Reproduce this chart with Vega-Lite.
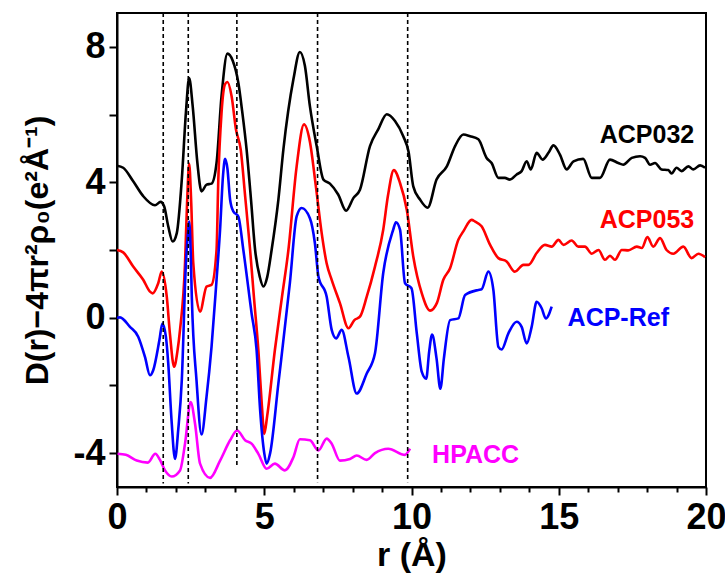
{
  "$schema": "https://vega.github.io/schema/vega-lite/v6.json",
  "width": 589,
  "height": 474,
  "autosize": {"type": "none"},
  "padding": {"left": 117, "top": 13, "right": 19, "bottom": 94},
  "background": "white",
  "config": {
    "view": {"stroke": "black", "strokeWidth": 2},
    "font": "Liberation Sans",
    "axis": {
      "grid": false,
      "domainColor": "black",
      "domainWidth": 2,
      "tickColor": "black",
      "tickWidth": 2,
      "labelFont": "Liberation Sans",
      "labelFontWeight": "bold",
      "labelFontSize": 36,
      "labelColor": "black",
      "titleFont": "Liberation Sans",
      "titleFontWeight": "bold",
      "titleFontSize": 34,
      "titleColor": "black"
    }
  },
  "resolve": {"axis": {"x": "independent", "y": "independent"}},
  "datasets": {
    "curves": [
      {"s": "ACP032", "r": 0, "v": 4.49}, {"s": "ACP032", "r": 0.21, "v": 4.43}, {"s": "ACP032", "r": 0.55, "v": 4.03}, {"s": "ACP032", "r": 0.89, "v": 3.59}, {"s": "ACP032", "r": 1.29, "v": 3.32}, {"s": "ACP032", "r": 1.48, "v": 3.42}, {"s": "ACP032", "r": 1.6, "v": 3.29}, {"s": "ACP032", "r": 1.74, "v": 2.7}, {"s": "ACP032", "r": 1.89, "v": 2.25}, {"s": "ACP032", "r": 2.03, "v": 2.5}, {"s": "ACP032", "r": 2.2, "v": 4.08}, {"s": "ACP032", "r": 2.34, "v": 6.06}, {"s": "ACP032", "r": 2.45, "v": 7.08}, {"s": "ACP032", "r": 2.57, "v": 6.25}, {"s": "ACP032", "r": 2.73, "v": 4.57}, {"s": "ACP032", "r": 2.87, "v": 3.73}, {"s": "ACP032", "r": 3.04, "v": 3.93}, {"s": "ACP032", "r": 3.21, "v": 3.96}, {"s": "ACP032", "r": 3.38, "v": 4.57}, {"s": "ACP032", "r": 3.55, "v": 6.55}, {"s": "ACP032", "r": 3.75, "v": 7.8}, {"s": "ACP032", "r": 3.93, "v": 7.59}, {"s": "ACP032", "r": 4.12, "v": 6.94}, {"s": "ACP032", "r": 4.25, "v": 6.1}, {"s": "ACP032", "r": 4.4, "v": 4.97}, {"s": "ACP032", "r": 4.55, "v": 3.49}, {"s": "ACP032", "r": 4.69, "v": 2.0}, {"s": "ACP032", "r": 4.85, "v": 1.2}, {"s": "ACP032", "r": 4.97, "v": 0.92}, {"s": "ACP032", "r": 5.1, "v": 1.2}, {"s": "ACP032", "r": 5.25, "v": 2.0}, {"s": "ACP032", "r": 5.48, "v": 3.49}, {"s": "ACP032", "r": 5.65, "v": 4.97}, {"s": "ACP032", "r": 5.99, "v": 7.04}, {"s": "ACP032", "r": 6.21, "v": 7.85}, {"s": "ACP032", "r": 6.38, "v": 7.44}, {"s": "ACP032", "r": 6.55, "v": 6.25}, {"s": "ACP032", "r": 6.78, "v": 5.07}, {"s": "ACP032", "r": 7.01, "v": 4.08}, {"s": "ACP032", "r": 7.23, "v": 3.96}, {"s": "ACP032", "r": 7.51, "v": 3.64}, {"s": "ACP032", "r": 7.78, "v": 3.16}, {"s": "ACP032", "r": 8.03, "v": 3.54}, {"s": "ACP032", "r": 8.25, "v": 3.78}, {"s": "ACP032", "r": 8.59, "v": 5.07}, {"s": "ACP032", "r": 8.87, "v": 5.56}, {"s": "ACP032", "r": 9.16, "v": 6.01}, {"s": "ACP032", "r": 9.44, "v": 5.81}, {"s": "ACP032", "r": 9.72, "v": 5.36}, {"s": "ACP032", "r": 9.9, "v": 4.9}, {"s": "ACP032", "r": 10.06, "v": 3.88}, {"s": "ACP032", "r": 10.29, "v": 3.49}, {"s": "ACP032", "r": 10.55, "v": 3.25}, {"s": "ACP032", "r": 10.85, "v": 4.08}, {"s": "ACP032", "r": 11.2, "v": 4.47}, {"s": "ACP032", "r": 11.48, "v": 5.07}, {"s": "ACP032", "r": 11.76, "v": 5.41}, {"s": "ACP032", "r": 11.99, "v": 5.36}, {"s": "ACP032", "r": 12.27, "v": 5.27}, {"s": "ACP032", "r": 12.55, "v": 4.72}, {"s": "ACP032", "r": 12.72, "v": 4.57}, {"s": "ACP032", "r": 12.95, "v": 4.13}, {"s": "ACP032", "r": 13.17, "v": 4.13}, {"s": "ACP032", "r": 13.34, "v": 4.08}, {"s": "ACP032", "r": 13.57, "v": 4.23}, {"s": "ACP032", "r": 13.74, "v": 4.33}, {"s": "ACP032", "r": 13.91, "v": 4.62}, {"s": "ACP032", "r": 14.05, "v": 4.38}, {"s": "ACP032", "r": 14.25, "v": 4.87}, {"s": "ACP032", "r": 14.45, "v": 4.67}, {"s": "ACP032", "r": 14.65, "v": 4.87}, {"s": "ACP032", "r": 14.82, "v": 5.09}, {"s": "ACP032", "r": 15.04, "v": 4.82}, {"s": "ACP032", "r": 15.27, "v": 4.38}, {"s": "ACP032", "r": 15.5, "v": 4.62}, {"s": "ACP032", "r": 15.83, "v": 4.69}, {"s": "ACP032", "r": 16.12, "v": 4.13}, {"s": "ACP032", "r": 16.4, "v": 4.13}, {"s": "ACP032", "r": 16.74, "v": 4.67}, {"s": "ACP032", "r": 17.02, "v": 4.57}, {"s": "ACP032", "r": 17.19, "v": 4.52}, {"s": "ACP032", "r": 17.48, "v": 4.72}, {"s": "ACP032", "r": 17.76, "v": 4.77}, {"s": "ACP032", "r": 17.93, "v": 4.72}, {"s": "ACP032", "r": 18.1, "v": 4.52}, {"s": "ACP032", "r": 18.27, "v": 4.57}, {"s": "ACP032", "r": 18.49, "v": 4.38}, {"s": "ACP032", "r": 18.72, "v": 4.36}, {"s": "ACP032", "r": 18.83, "v": 4.26}, {"s": "ACP032", "r": 19.0, "v": 4.43}, {"s": "ACP032", "r": 19.17, "v": 4.33}, {"s": "ACP032", "r": 19.4, "v": 4.47}, {"s": "ACP032", "r": 19.57, "v": 4.38}, {"s": "ACP032", "r": 19.8, "v": 4.5}, {"s": "ACP032", "r": 19.97, "v": 4.43},

      {"s": "ACP053", "r": 0, "v": 2.0}, {"s": "ACP053", "r": 0.21, "v": 1.93}, {"s": "ACP053", "r": 0.55, "v": 1.51}, {"s": "ACP053", "r": 0.89, "v": 1.12}, {"s": "ACP053", "r": 1.12, "v": 0.77}, {"s": "ACP053", "r": 1.21, "v": 0.72}, {"s": "ACP053", "r": 1.4, "v": 1.02}, {"s": "ACP053", "r": 1.52, "v": 1.36}, {"s": "ACP053", "r": 1.69, "v": 0.62}, {"s": "ACP053", "r": 1.8, "v": -0.5}, {"s": "ACP053", "r": 1.94, "v": -1.45}, {"s": "ACP053", "r": 2.05, "v": -1.0}, {"s": "ACP053", "r": 2.14, "v": -0.36}, {"s": "ACP053", "r": 2.31, "v": 1.61}, {"s": "ACP053", "r": 2.38, "v": 3.4}, {"s": "ACP053", "r": 2.45, "v": 4.55}, {"s": "ACP053", "r": 2.52, "v": 3.4}, {"s": "ACP053", "r": 2.59, "v": 1.61}, {"s": "ACP053", "r": 2.82, "v": 0.18}, {"s": "ACP053", "r": 3.04, "v": 0.92}, {"s": "ACP053", "r": 3.21, "v": 0.97}, {"s": "ACP053", "r": 3.38, "v": 2.0}, {"s": "ACP053", "r": 3.44, "v": 4.08}, {"s": "ACP053", "r": 3.55, "v": 6.06}, {"s": "ACP053", "r": 3.67, "v": 6.9}, {"s": "ACP053", "r": 3.75, "v": 6.96}, {"s": "ACP053", "r": 3.89, "v": 6.55}, {"s": "ACP053", "r": 4.04, "v": 5.56}, {"s": "ACP053", "r": 4.2, "v": 4.97}, {"s": "ACP053", "r": 4.35, "v": 3.6}, {"s": "ACP053", "r": 4.52, "v": 2.0}, {"s": "ACP053", "r": 4.65, "v": 0.6}, {"s": "ACP053", "r": 4.8, "v": -0.96}, {"s": "ACP053", "r": 4.92, "v": -2.6}, {"s": "ACP053", "r": 5.0, "v": -3.43}, {"s": "ACP053", "r": 5.1, "v": -2.9}, {"s": "ACP053", "r": 5.36, "v": -0.96}, {"s": "ACP053", "r": 5.6, "v": 0.6}, {"s": "ACP053", "r": 5.82, "v": 2.0}, {"s": "ACP053", "r": 6.1, "v": 4.47}, {"s": "ACP053", "r": 6.35, "v": 5.71}, {"s": "ACP053", "r": 6.55, "v": 5.2}, {"s": "ACP053", "r": 6.75, "v": 3.9}, {"s": "ACP053", "r": 6.95, "v": 2.5}, {"s": "ACP053", "r": 7.12, "v": 1.6}, {"s": "ACP053", "r": 7.29, "v": 1.12}, {"s": "ACP053", "r": 7.57, "v": 0.43}, {"s": "ACP053", "r": 7.86, "v": -0.31}, {"s": "ACP053", "r": 8.06, "v": -0.07}, {"s": "ACP053", "r": 8.25, "v": 0.03}, {"s": "ACP053", "r": 8.48, "v": 0.62}, {"s": "ACP053", "r": 8.76, "v": 1.51}, {"s": "ACP053", "r": 9.04, "v": 2.6}, {"s": "ACP053", "r": 9.2, "v": 3.6}, {"s": "ACP053", "r": 9.4, "v": 4.36}, {"s": "ACP053", "r": 9.61, "v": 3.98}, {"s": "ACP053", "r": 9.84, "v": 3.19}, {"s": "ACP053", "r": 10.06, "v": 1.81}, {"s": "ACP053", "r": 10.35, "v": 0.72}, {"s": "ACP053", "r": 10.63, "v": 0.21}, {"s": "ACP053", "r": 10.86, "v": 0.43}, {"s": "ACP053", "r": 11.08, "v": 1.12}, {"s": "ACP053", "r": 11.31, "v": 1.46}, {"s": "ACP053", "r": 11.59, "v": 2.3}, {"s": "ACP053", "r": 11.76, "v": 2.55}, {"s": "ACP053", "r": 12.04, "v": 2.89}, {"s": "ACP053", "r": 12.16, "v": 2.84}, {"s": "ACP053", "r": 12.38, "v": 2.7}, {"s": "ACP053", "r": 12.67, "v": 2.15}, {"s": "ACP053", "r": 12.95, "v": 1.76}, {"s": "ACP053", "r": 13.23, "v": 1.66}, {"s": "ACP053", "r": 13.51, "v": 1.36}, {"s": "ACP053", "r": 13.8, "v": 1.56}, {"s": "ACP053", "r": 13.97, "v": 1.56}, {"s": "ACP053", "r": 14.25, "v": 1.91}, {"s": "ACP053", "r": 14.53, "v": 2.15}, {"s": "ACP053", "r": 14.76, "v": 2.1}, {"s": "ACP053", "r": 14.99, "v": 2.3}, {"s": "ACP053", "r": 15.16, "v": 2.15}, {"s": "ACP053", "r": 15.44, "v": 2.28}, {"s": "ACP053", "r": 15.66, "v": 2.1}, {"s": "ACP053", "r": 15.89, "v": 2.1}, {"s": "ACP053", "r": 16.12, "v": 1.89}, {"s": "ACP053", "r": 16.35, "v": 2.0}, {"s": "ACP053", "r": 16.57, "v": 1.71}, {"s": "ACP053", "r": 16.74, "v": 1.83}, {"s": "ACP053", "r": 16.91, "v": 1.71}, {"s": "ACP053", "r": 17.14, "v": 2.0}, {"s": "ACP053", "r": 17.36, "v": 1.99}, {"s": "ACP053", "r": 17.65, "v": 2.1}, {"s": "ACP053", "r": 17.82, "v": 2.06}, {"s": "ACP053", "r": 18.01, "v": 2.38}, {"s": "ACP053", "r": 18.21, "v": 2.1}, {"s": "ACP053", "r": 18.44, "v": 2.35}, {"s": "ACP053", "r": 18.66, "v": 2.0}, {"s": "ACP053", "r": 18.89, "v": 1.89}, {"s": "ACP053", "r": 19.23, "v": 2.1}, {"s": "ACP053", "r": 19.51, "v": 1.76}, {"s": "ACP053", "r": 19.74, "v": 1.89}, {"s": "ACP053", "r": 19.97, "v": 1.79},

      {"s": "ACP-Ref", "r": 0, "v": 0.0}, {"s": "ACP-Ref", "r": 0.1, "v": 0.01}, {"s": "ACP-Ref", "r": 0.44, "v": -0.27}, {"s": "ACP-Ref", "r": 0.72, "v": -0.56}, {"s": "ACP-Ref", "r": 0.95, "v": -1.16}, {"s": "ACP-Ref", "r": 1.12, "v": -1.7}, {"s": "ACP-Ref", "r": 1.23, "v": -1.55}, {"s": "ACP-Ref", "r": 1.44, "v": -0.66}, {"s": "ACP-Ref", "r": 1.54, "v": -0.17}, {"s": "ACP-Ref", "r": 1.66, "v": -0.56}, {"s": "ACP-Ref", "r": 1.74, "v": -1.35}, {"s": "ACP-Ref", "r": 1.85, "v": -3.0}, {"s": "ACP-Ref", "r": 1.97, "v": -4.17}, {"s": "ACP-Ref", "r": 2.08, "v": -3.3}, {"s": "ACP-Ref", "r": 2.2, "v": -1.85}, {"s": "ACP-Ref", "r": 2.34, "v": 1.61}, {"s": "ACP-Ref", "r": 2.42, "v": 2.6}, {"s": "ACP-Ref", "r": 2.45, "v": 2.84}, {"s": "ACP-Ref", "r": 2.5, "v": 2.0}, {"s": "ACP-Ref", "r": 2.54, "v": 0.62}, {"s": "ACP-Ref", "r": 2.7, "v": -1.85}, {"s": "ACP-Ref", "r": 2.87, "v": -3.45}, {"s": "ACP-Ref", "r": 3.04, "v": -2.34}, {"s": "ACP-Ref", "r": 3.21, "v": -0.86}, {"s": "ACP-Ref", "r": 3.38, "v": 1.12}, {"s": "ACP-Ref", "r": 3.5, "v": 2.6}, {"s": "ACP-Ref", "r": 3.6, "v": 4.2}, {"s": "ACP-Ref", "r": 3.67, "v": 4.69}, {"s": "ACP-Ref", "r": 3.75, "v": 4.4}, {"s": "ACP-Ref", "r": 3.84, "v": 3.49}, {"s": "ACP-Ref", "r": 3.95, "v": 3.14}, {"s": "ACP-Ref", "r": 4.12, "v": 2.99}, {"s": "ACP-Ref", "r": 4.29, "v": 2.0}, {"s": "ACP-Ref", "r": 4.57, "v": 0.13}, {"s": "ACP-Ref", "r": 4.74, "v": -0.96}, {"s": "ACP-Ref", "r": 4.86, "v": -2.73}, {"s": "ACP-Ref", "r": 5.0, "v": -4.0}, {"s": "ACP-Ref", "r": 5.08, "v": -4.31}, {"s": "ACP-Ref", "r": 5.2, "v": -4.0}, {"s": "ACP-Ref", "r": 5.48, "v": -1.94}, {"s": "ACP-Ref", "r": 5.87, "v": 1.02}, {"s": "ACP-Ref", "r": 6.1, "v": 2.99}, {"s": "ACP-Ref", "r": 6.27, "v": 3.24}, {"s": "ACP-Ref", "r": 6.55, "v": 2.94}, {"s": "ACP-Ref", "r": 6.72, "v": 2.2}, {"s": "ACP-Ref", "r": 6.84, "v": 1.22}, {"s": "ACP-Ref", "r": 7.12, "v": 0.62}, {"s": "ACP-Ref", "r": 7.29, "v": -0.36}, {"s": "ACP-Ref", "r": 7.44, "v": -0.61}, {"s": "ACP-Ref", "r": 7.63, "v": -0.36}, {"s": "ACP-Ref", "r": 7.86, "v": -1.16}, {"s": "ACP-Ref", "r": 8.14, "v": -2.24}, {"s": "ACP-Ref", "r": 8.48, "v": -1.65}, {"s": "ACP-Ref", "r": 8.76, "v": -1.05}, {"s": "ACP-Ref", "r": 9.04, "v": 1.32}, {"s": "ACP-Ref", "r": 9.38, "v": 2.6}, {"s": "ACP-Ref", "r": 9.47, "v": 2.82}, {"s": "ACP-Ref", "r": 9.61, "v": 2.6}, {"s": "ACP-Ref", "r": 9.78, "v": 1.02}, {"s": "ACP-Ref", "r": 10.0, "v": 0.87}, {"s": "ACP-Ref", "r": 10.18, "v": -0.46}, {"s": "ACP-Ref", "r": 10.35, "v": -1.6}, {"s": "ACP-Ref", "r": 10.5, "v": -1.8}, {"s": "ACP-Ref", "r": 10.6, "v": -1.0}, {"s": "ACP-Ref", "r": 10.7, "v": -0.5}, {"s": "ACP-Ref", "r": 10.85, "v": -1.2}, {"s": "ACP-Ref", "r": 10.98, "v": -2.1}, {"s": "ACP-Ref", "r": 11.1, "v": -1.2}, {"s": "ACP-Ref", "r": 11.31, "v": -0.07}, {"s": "ACP-Ref", "r": 11.59, "v": -0.02}, {"s": "ACP-Ref", "r": 11.82, "v": 0.67}, {"s": "ACP-Ref", "r": 12.27, "v": 0.82}, {"s": "ACP-Ref", "r": 12.38, "v": 0.84}, {"s": "ACP-Ref", "r": 12.61, "v": 1.36}, {"s": "ACP-Ref", "r": 12.78, "v": 0.82}, {"s": "ACP-Ref", "r": 12.95, "v": -0.86}, {"s": "ACP-Ref", "r": 13.06, "v": -0.94}, {"s": "ACP-Ref", "r": 13.29, "v": -0.46}, {"s": "ACP-Ref", "r": 13.57, "v": -0.12}, {"s": "ACP-Ref", "r": 13.74, "v": -0.27}, {"s": "ACP-Ref", "r": 13.91, "v": -0.76}, {"s": "ACP-Ref", "r": 14.08, "v": -0.27}, {"s": "ACP-Ref", "r": 14.25, "v": 0.47}, {"s": "ACP-Ref", "r": 14.42, "v": 0.28}, {"s": "ACP-Ref", "r": 14.56, "v": -0.02}, {"s": "ACP-Ref", "r": 14.76, "v": 0.33},

      {"s": "HPACC", "r": 0.02, "v": -4.02}, {"s": "HPACC", "r": 0.3, "v": -4.05}, {"s": "HPACC", "r": 0.67, "v": -4.22}, {"s": "HPACC", "r": 1.05, "v": -4.28}, {"s": "HPACC", "r": 1.3, "v": -4.02}, {"s": "HPACC", "r": 1.46, "v": -4.2}, {"s": "HPACC", "r": 1.63, "v": -4.51}, {"s": "HPACC", "r": 1.86, "v": -4.69}, {"s": "HPACC", "r": 2.14, "v": -4.51}, {"s": "HPACC", "r": 2.31, "v": -3.72}, {"s": "HPACC", "r": 2.5, "v": -2.49}, {"s": "HPACC", "r": 2.65, "v": -3.13}, {"s": "HPACC", "r": 2.82, "v": -4.31}, {"s": "HPACC", "r": 3.16, "v": -4.73}, {"s": "HPACC", "r": 3.5, "v": -4.22}, {"s": "HPACC", "r": 3.84, "v": -3.62}, {"s": "HPACC", "r": 4.08, "v": -3.33}, {"s": "HPACC", "r": 4.35, "v": -3.62}, {"s": "HPACC", "r": 4.57, "v": -3.72}, {"s": "HPACC", "r": 4.8, "v": -4.02}, {"s": "HPACC", "r": 5.08, "v": -4.46}, {"s": "HPACC", "r": 5.36, "v": -4.31}, {"s": "HPACC", "r": 5.7, "v": -4.51}, {"s": "HPACC", "r": 5.99, "v": -4.12}, {"s": "HPACC", "r": 6.21, "v": -3.59}, {"s": "HPACC", "r": 6.55, "v": -3.62}, {"s": "HPACC", "r": 6.84, "v": -3.92}, {"s": "HPACC", "r": 7.12, "v": -3.57}, {"s": "HPACC", "r": 7.29, "v": -3.72}, {"s": "HPACC", "r": 7.57, "v": -4.22}, {"s": "HPACC", "r": 7.91, "v": -4.17}, {"s": "HPACC", "r": 8.14, "v": -4.07}, {"s": "HPACC", "r": 8.48, "v": -4.2}, {"s": "HPACC", "r": 8.76, "v": -4.0}, {"s": "HPACC", "r": 9.21, "v": -3.87}, {"s": "HPACC", "r": 9.78, "v": -4.05}, {"s": "HPACC", "r": 9.95, "v": -3.87}
    ],
    "marks": [
      {"r": 1.57, "top": 9, "bottom": -4.9},
      {"r": 2.42, "top": 9, "bottom": -4.9},
      {"r": 4.07, "top": 9, "bottom": -4.42},
      {"r": 6.81, "top": 9, "bottom": -4.86},
      {"r": 9.87, "top": 9, "bottom": -4.86}
    ],
    "labelsRight": [
      {"s": "ACP032", "r": 19.6, "v": 5.4},
      {"s": "ACP053", "r": 19.6, "v": 2.9}
    ],
    "labelsLeft": [
      {"s": "ACP-Ref", "r": 15.3, "v": 0.0},
      {"s": "HPACC", "r": 10.7, "v": -4.05}
    ]
  },
  "layer": [
    {
      "data": {"name": "curves"},
      "mark": {"type": "line", "strokeWidth": 2.6, "interpolate": "monotone", "clip": true},
      "encoding": {
        "x": {
          "field": "r", "type": "quantitative",
          "scale": {"domain": [0, 20], "nice": false},
          "axis": {
            "orient": "bottom",
            "title": "r (Å)",
            "values": [0, 5, 10, 15, 20],
            "tickSize": 8,
            "labelPadding": 5,
            "labelFlush": false,
            "labelOverlap": false,
            "titlePadding": 3
          }
        },
        "y": {
          "field": "v", "type": "quantitative",
          "scale": {"domain": [-5, 9], "nice": false},
          "axis": {
            "orient": "left",
            "title": "D(r)−4πr²ρ₀(e²Å⁻¹)",
            "titleFontSize": 32,
            "values": [-4, 0, 4, 8],
            "labelExpr": "replace(datum.label, '−', '-')",
            "tickSize": 8,
            "labelPadding": 4,
            "labelOverlap": false,
            "labelFlush": false,
            "titlePadding": 18
          }
        },
        "color": {
          "field": "s", "type": "nominal",
          "scale": {"domain": ["ACP032", "ACP053", "ACP-Ref", "HPACC"], "range": ["#000000", "#ff0000", "#0000ff", "#ff00ff"]},
          "legend": null
        }
      }
    },
    {
      "data": {"name": "marks"},
      "mark": {"type": "rule", "color": "black", "strokeWidth": 1.6, "strokeDash": [4, 3]},
      "encoding": {
        "x": {
          "field": "r", "type": "quantitative",
          "axis": {
            "orient": "bottom",
            "title": null,
            "values": [1, 2, 3, 4, 6, 7, 8, 9, 11, 12, 13, 14, 16, 17, 18, 19],
            "labels": false,
            "domain": false,
            "tickSize": 5
          }
        },
        "y": {
          "field": "top", "type": "quantitative",
          "axis": {
            "orient": "left",
            "title": null,
            "values": [-2, 2, 6],
            "labels": false,
            "domain": false,
            "tickSize": 8
          }
        },
        "y2": {"field": "bottom"}
      }
    },
    {
      "data": {"name": "labelsRight"},
      "mark": {"type": "text", "font": "Liberation Sans", "fontWeight": "bold", "fontSize": 25, "baseline": "middle", "align": "right"},
      "encoding": {
        "x": {"field": "r", "type": "quantitative", "axis": null},
        "y": {"field": "v", "type": "quantitative", "axis": null},
        "text": {"field": "s"},
        "color": {"field": "s", "type": "nominal"}
      }
    },
    {
      "data": {"name": "labelsLeft"},
      "mark": {"type": "text", "font": "Liberation Sans", "fontWeight": "bold", "fontSize": 25, "baseline": "middle", "align": "left"},
      "encoding": {
        "x": {"field": "r", "type": "quantitative", "axis": null},
        "y": {"field": "v", "type": "quantitative", "axis": null},
        "text": {"field": "s"},
        "color": {"field": "s", "type": "nominal"}
      }
    }
  ]
}
